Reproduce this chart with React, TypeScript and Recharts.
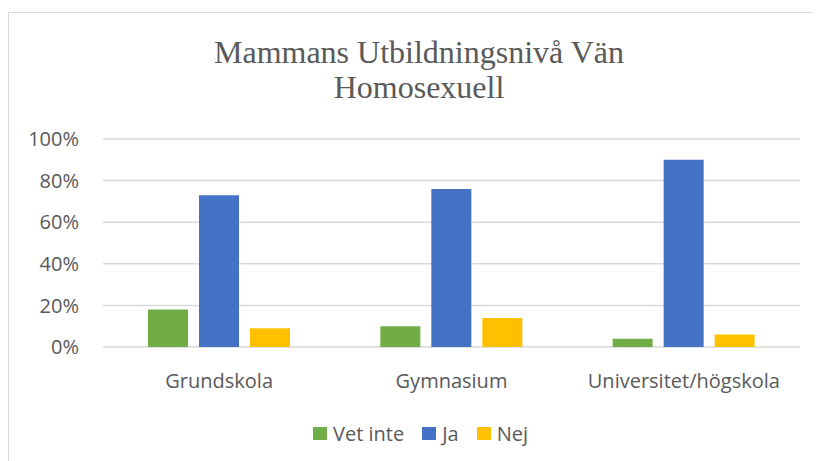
import React from "react";
import { BarChart, Bar, XAxis, YAxis, CartesianGrid } from "recharts";

const categories = ["Grundskola", "Gymnasium", "Universitet/högskola"];
const vetInte = [18, 10, 4];
const ja = [73, 76, 90];
const nej = [9, 14, 6];
const yTicks = [0, 20, 40, 60, 80, 100];
const titleLines = ["Mammans Utbildningsnivå Vän", "Homosexuell"];

const series = [
  { key: "vetInte", name: "Vet inte", color: "#70AD47" },
  { key: "ja", name: "Ja", color: "#4472C4" },
  { key: "nej", name: "Nej", color: "#FFC000" },
];

const data = categories.map((c, i) => ({
  category: c,
  vetInte: vetInte[i],
  ja: ja[i],
  nej: nej[i],
}));

const textColor = "#595959";
const sansFont = "'Open Sans', sans-serif";

export default function App() {
  return (
    <div
      style={{
        position: "relative",
        marginTop: 4,
        width: 822,
        height: 470,
        border: "1px solid #d9d9d9",
        boxSizing: "border-box",
        background: "#fff",
      }}
    >
      <div
        style={{
          position: "absolute",
          left: 0,
          top: 22,
          width: 820,
          textAlign: "center",
          fontFamily: "'Liberation Serif', 'Times New Roman', serif",
          fontSize: 32,
          lineHeight: "35px",
          color: textColor,
        }}
      >
        {titleLines.map((t) => (
          <div key={t}>{t}</div>
        ))}
      </div>
      <BarChart
        width={820}
        height={455}
        data={data}
        margin={{ top: 126, right: 29, left: 0, bottom: 91 }}
        barSize={40}
        barGap={11}
      >
        <CartesianGrid vertical={false} stroke="#d9d9d9" strokeWidth={1.5} />
        <XAxis
          dataKey="category"
          axisLine={false}
          tickLine={false}
          tickSize={0}
          tickMargin={27}
          height={30}
          tick={{ fill: textColor, fontSize: 20, fontFamily: sansFont }}
          interval={0}
        />
        <YAxis
          domain={[0, 100]}
          ticks={yTicks}
          axisLine={false}
          tickLine={false}
          tickSize={0}
          tickMargin={24}
          width={94}
          tickFormatter={(v: number) => `${v}%`}
          tick={{ fill: textColor, fontSize: 20, fontFamily: sansFont }}
        />
        {series.map((s) => (
          <Bar
            key={s.key}
            dataKey={s.key}
            name={s.name}
            fill={s.color}
            isAnimationActive={false}
          />
        ))}
      </BarChart>
      <div
        style={{
          position: "absolute",
          left: 304,
          top: 405,
          display: "flex",
          alignItems: "center",
          fontFamily: sansFont,
          fontSize: 20,
          color: textColor,
          height: 30,
        }}
      >
        {series.map((s, i) => (
          <div
            key={s.key}
            style={{
              display: "flex",
              alignItems: "center",
              marginRight: i < series.length - 1 ? 18 : 0,
            }}
          >
            <div
              style={{
                width: 14,
                height: 13,
                background: s.color,
                marginRight: 6,
              }}
            />
            <span>{s.name}</span>
          </div>
        ))}
      </div>
    </div>
  );
}
